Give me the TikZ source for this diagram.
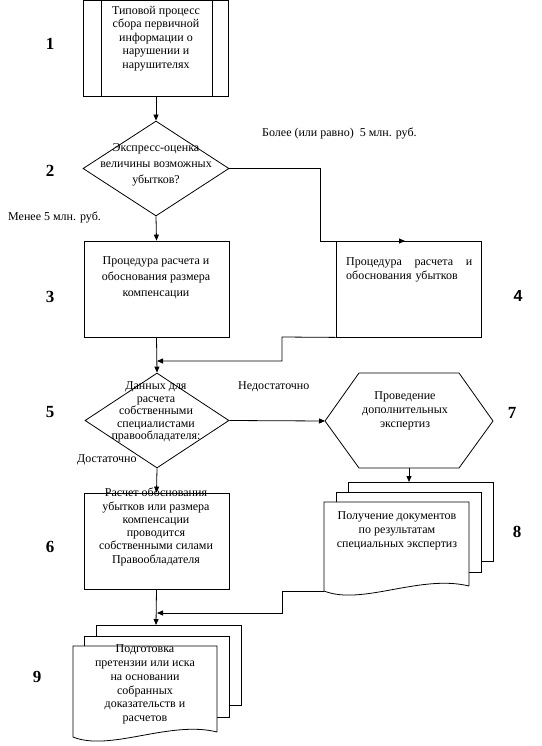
\documentclass[tikz,border=0pt]{standalone}
\usepackage{fontspec}
\setmainfont{Liberation Serif}
\newfontfamily\numsans{Liberation Sans}
\usetikzlibrary{shapes.geometric,arrows.meta}
\tikzset{
  ln/.style={line width=0.8pt},
  arr/.style={ln,-{Triangle[length=6pt,width=5pt]}},
  blk/.style={draw,ln,rectangle,minimum width=145pt,minimum height=96pt,inner sep=0pt},
  dia/.style={draw,ln,diamond,minimum width=146pt,minimum height=95pt,inner sep=0pt},
  txt/.style={inner sep=0pt,align=center,font=\fontsize{12}{13.5}\selectfont},
  num/.style={inner sep=0pt,font=\fontsize{17}{17}\selectfont\bfseries},
  lbl/.style={inner sep=0pt,font=\fontsize{12}{13}\selectfont},
}
\begin{document}
\begin{tikzpicture}[x=1pt,y=-1pt]
\useasboundingbox (0,0) rectangle (541,746);
\fill[white] (0,0) rectangle (541,746);

% block 1 (predefined process)
\node[blk] (b1) at (156,48.5) {};
\draw[ln] (101,1) -- (101,96) (212,1) -- (212,96);
\node[txt,anchor=north,font=\fontsize{12}{13.5}\selectfont] (t1) at (156,6) {Типовой процесс\\сбора первичной\\информации о\\нарушении и\\нарушителях};

% diamond 2
\node[dia] (d2) at (156,168.5) {};
\node[txt,font=\fontsize{12}{16}\selectfont] (t2) at (156,165) {Экспресс-оценка\\величины возможных\\убытков?};

% block 3
\node[blk] (b3) at (156.5,289) {};
\node[txt,anchor=north,font=\fontsize{12}{16}\selectfont] (t3) at (156,256) {Процедура расчета и\\обоснования размера\\компенсации};

% block 4
\node[blk] (b4) at (408.5,289) {};
\node[inner sep=0pt,anchor=north west,text width=126pt,align=left,font=\fontsize{12}{14}\selectfont] (t4) at (346,257) {Процедура\hfill расчета\hfill и\\обоснования убытков};

% diamond 5
\node[dia,minimum width=144pt] (d5) at (157,420.5) {};
\node[txt,font=\fontsize{12}{12.5}\selectfont] (t5) at (156,412) {Данных для\\расчета\\собственными\\специалистами\\правообладателя:};

% hexagon 7
\coordinate (h7w) at (325,421);
\coordinate (h7s) at (409,468);
\draw[ln] (h7w) -- (359,373) -- (459,373) -- (493,421) -- (459,468) -- (359,468) -- cycle;
\node[txt,font=\fontsize{12}{14}\selectfont] (t7) at (405,411) {Проведение\\дополнительных\\экспертиз};

% block 6
\node[blk] (b6) at (156.5,541) {};
\node[txt,anchor=north,font=\fontsize{12}{13.3}\selectfont] (t6) at (156,488) {Расчет обоснования\\убытков или размера\\компенсации\\проводится\\собственными силами\\Правообладателя};

% document stack 8
\draw[ln,fill=white] (348,482) rectangle (493,561);
\draw[ln,fill=white] (336,492) rectangle (481,572);
\draw[ln,fill=white] (469,586) -- (469,502) -- (324,502) -- (324,591)
   .. controls (362,606) and (420,574) .. (469,586);
\coordinate (d8top) at (409,482);
\coordinate (d8w) at (324,591);
\node[txt,font=\fontsize{12}{14}\selectfont] (t8) at (397,531) {Получение документов\\по результатам\\специальных экспертиз};

% document stack 9
\draw[ln,fill=white] (96,625) rectangle (241,705);
\draw[ln,fill=white] (84,636) rectangle (229,717);
\draw[ln,fill=white] (217,732) -- (217,646) -- (73,646) -- (73,737)
   .. controls (110,752) and (170,720) .. (217,732);
\coordinate (d9top) at (156,625);
\node[txt,font=\fontsize{12}{13.8}\selectfont] (t9) at (145,684.5) {Подготовка\\претензии или иска\\на основании\\собранных\\доказательств и\\расчетов};

% connectors
\draw[arr] (b1.south) -- (d2.north);
\draw[arr] (d2.south) -- (b3.north);
\draw[arr] (d2.east) -| (320,241) -- (405,241);
\draw[arr] (b3.south) -- (d5.north);
\coordinate (j5) at (157,361);
\draw[arr] (b4.south west) -- (282,337) |- (j5);
\draw[arr] (d5.east) -- (h7w);
\draw[arr] (d5.south) -- (b6.north);
\draw[arr] (h7s) -- (d8top);
\draw[arr] (b6.south) -- (d9top);
\coordinate (j9) at (157,613);
\draw[arr] (d8w) -- (282,591) |- (j9);

% edge labels
\node[lbl,anchor=west] (l1) at (262,134) {Более (или равно)\ \ 5 млн. руб.};
\node[lbl,anchor=west] (l2) at (8,217) {Менее 5 млн. руб.};
\node[lbl,anchor=west] (l3) at (238,387) {Недостаточно};
\node[lbl,anchor=west] (l4) at (77,460) {Достаточно};

% step numbers
\node[num] (n1) at (50,44) {1};
\node[num] (n2) at (50,171) {2};
\node[num] (n3) at (50,297) {3};
\node[num,font=\fontsize{16}{16}\selectfont\numsans\bfseries] (n4) at (518,296) {4};
\node[num] (n5) at (50,412) {5};
\node[num] (n6) at (50,547) {6};
\node[num] (n7) at (512,413) {7};
\node[num] (n8) at (517,532) {8};
\node[num] (n9) at (37,677) {9};
\end{tikzpicture}
\end{document}
